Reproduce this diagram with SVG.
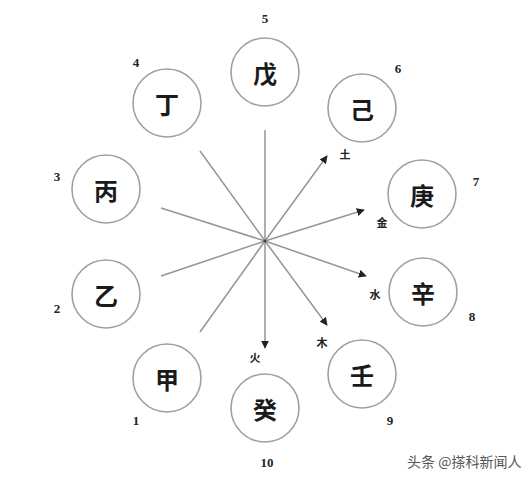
<svg xmlns="http://www.w3.org/2000/svg" width="530" height="482" viewBox="0 0 530 482">
<style>
.c{fill:#fff;stroke:#a0a0a0;stroke-width:1.6}
.t{font-family:"Noto Sans CJK SC","Noto Sans CJK JP",sans-serif;font-size:24px;font-weight:bold;fill:#1a1a1a;text-anchor:middle;dominant-baseline:central}
.n{font-family:"Liberation Serif",serif;font-size:13px;font-weight:bold;fill:#222;text-anchor:middle;dominant-baseline:central}
.e{font-family:"Noto Sans CJK SC",sans-serif;font-size:11px;font-weight:bold;fill:#222;text-anchor:middle;dominant-baseline:central}
.l{stroke:#959595;stroke-width:1.5;fill:none}
.w{font-family:"Noto Sans CJK SC",sans-serif;font-size:14px;fill:#555;dominant-baseline:central}
</style>
<defs>
<marker id="a" viewBox="0 0 10 10" refX="9" refY="5" markerWidth="8" markerHeight="8" markerUnits="userSpaceOnUse" orient="auto"><path d="M0,0L10,5L0,10z" fill="#222"/></marker>
</defs>
<rect width="530" height="482" fill="#fff"/>
<g id="connectors">
<line class="l" x1="265" y1="130" x2="265" y2="241"/>
<line class="l" x1="200" y1="151" x2="265" y2="241"/>
<line class="l" x1="161" y1="208" x2="265" y2="241"/>
<line class="l" x1="161" y1="276" x2="265" y2="241"/>
<line class="l" x1="200" y1="332" x2="265" y2="241"/>
<line class="l" x1="265" y1="241" x2="327" y2="156" marker-end="url(#a)"/>
<line class="l" x1="265" y1="241" x2="364" y2="210" marker-end="url(#a)"/>
<line class="l" x1="265" y1="241" x2="366" y2="276" marker-end="url(#a)"/>
<line class="l" x1="265" y1="241" x2="327" y2="325" marker-end="url(#a)"/>
<line class="l" x1="265" y1="241" x2="265" y2="348" marker-end="url(#a)"/>
<circle cx="265" cy="241" r="1.5" fill="#444"/>
</g>
<g id="wu"><circle class="c" cx="265" cy="72" r="34"/><text class="t" x="265" y="72">戊</text><text class="n" x="265" y="18">5</text></g>
<g id="ding"><circle class="c" cx="167" cy="103" r="34"/><text class="t" x="167" y="103">丁</text><text class="n" x="136" y="62">4</text></g>
<g id="ji"><circle class="c" cx="362" cy="108" r="34"/><text class="t" x="362" y="108">己</text><text class="n" x="398" y="68">6</text></g>
<g id="bing"><circle class="c" cx="106" cy="189" r="34"/><text class="t" x="106" y="189">丙</text><text class="n" x="57" y="176">3</text></g>
<g id="geng"><circle class="c" cx="422" cy="194" r="34"/><text class="t" x="422" y="194">庚</text><text class="n" x="476" y="181">7</text></g>
<g id="yi"><circle class="c" cx="106" cy="294" r="34"/><text class="t" x="106" y="294">乙</text><text class="n" x="57" y="308">2</text></g>
<g id="xin"><circle class="c" cx="423" cy="292" r="34"/><text class="t" x="423" y="292">辛</text><text class="n" x="472" y="316">8</text></g>
<g id="jia"><circle class="c" cx="167" cy="378" r="34"/><text class="t" x="167" y="378">甲</text><text class="n" x="136" y="420">1</text></g>
<g id="gui"><circle class="c" cx="265" cy="408" r="34"/><text class="t" x="265" y="408">癸</text><text class="n" x="267" y="462">10</text></g>
<g id="ren"><circle class="c" cx="362" cy="374" r="34"/><text class="t" x="362" y="374">壬</text><text class="n" x="390" y="420">9</text></g>
<g id="elements">
<text class="e" x="345" y="154">土</text>
<text class="e" x="382" y="222">金</text>
<text class="e" x="375" y="294">水</text>
<text class="e" x="322" y="342">木</text>
<text class="e" x="255" y="357">火</text>
</g>
<text class="w" x="407" y="461">头条 @搽科新闻人</text>
</svg>
